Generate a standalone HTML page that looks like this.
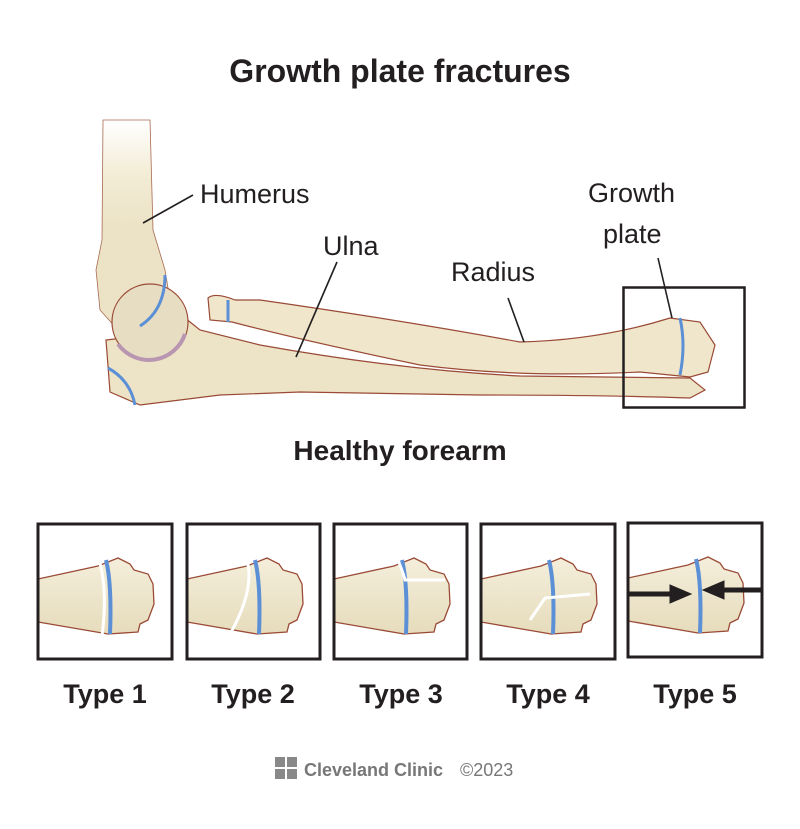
<!DOCTYPE html>
<html><head><style>
body{margin:0;background:#fff;width:800px;height:829px;overflow:hidden;font-family:"Liberation Sans",sans-serif}
svg{position:absolute;left:0;top:0}
</style></head><body>
<svg width="800" height="829" viewBox="0 0 800 829">
<defs>
<linearGradient id="bg" x1="0" y1="0" x2="0" y2="1"><stop offset="0" stop-color="#f4eedb"/><stop offset="1" stop-color="#e6dcbc"/></linearGradient>
<linearGradient id="hg" x1="0" y1="0" x2="0" y2="1"><stop offset="0" stop-color="#fff"/><stop offset="0.25" stop-color="#f3ecd6"/><stop offset="0.5" stop-color="#ece3c6"/></linearGradient>
<g id="bone">
<path d="M0 55 L60 42 L70 38 L80 34 L92 40 L96 46 L110 50 L115 60 L116 80 L110 96 L102 100 L100 108 L70 110 L0 98 Z" fill="url(#bg)" stroke="#9a4a35" stroke-width="1.3"/>
<path d="M68 36 Q74 60 72 110" fill="none" stroke="#5b8fd6" stroke-width="4"/>
</g>
</defs>
<text x="400" y="82" text-anchor="middle" font-size="32" font-weight="bold" fill="#231f20">Growth plate fractures</text>
<!-- humerus -->
<path d="M103 120 L150 120 L153 230 L165 270 L170 300 L150 335 L118 330 L100 310 L96 270 L102 240 Z" fill="url(#hg)" stroke="#a86a50" stroke-width="0.8"/>
<!-- radius -->
<path d="M208 298 Q215 292 235 300 L260 300 Q400 320 520 342 Q600 340 670 318 L700 322 L715 345 L708 372 L690 377 L640 372 Q520 378 420 365 Q300 340 232 322 L210 320 Z" fill="#efe6cc" stroke="#9a4a35" stroke-width="1.2"/>
<!-- ulna -->
<path d="M106 340 L150 335 L185 318 L200 330 L260 345 Q400 370 520 376 L690 378 L705 390 L690 398 Q600 395 480 395 L300 392 L220 395 L140 405 L110 392 Z" fill="#ede3c6" stroke="#9a4a35" stroke-width="1.2"/>
<circle cx="150" cy="322" r="38" fill="#e7ddc2" stroke="#9a4a35" stroke-width="1.2"/>
<path d="M118 344 A38 38 0 0 0 185 334" fill="none" stroke="#b895b0" stroke-width="4"/>
<path d="M165 275 Q165 310 140 326" fill="none" stroke="#5b8fd6" stroke-width="3"/>
<path d="M108 368 Q130 380 135 405" fill="none" stroke="#5b8fd6" stroke-width="3"/>
<path d="M228 300 L228 322" stroke="#5b8fd6" stroke-width="3"/>
<path d="M680 318 Q686 345 680 375" fill="none" stroke="#5b8fd6" stroke-width="3"/>
<rect x="623.5" y="287.5" width="121" height="120" fill="none" stroke="#231f20" stroke-width="2.5"/>
<g stroke="#231f20" stroke-width="1.6">
<line x1="143" y1="223" x2="193" y2="195"/>
<line x1="337" y1="262" x2="296" y2="357"/>
<line x1="508" y1="298" x2="524" y2="342"/>
<line x1="658" y1="258" x2="672" y2="318"/>
</g>
<g font-size="27" fill="#231f20">
<text x="200" y="203">Humerus</text>
<text x="323" y="255">Ulna</text>
<text x="451" y="281">Radius</text>
<text x="588" y="202">Growth</text>
<text x="603" y="243">plate</text>
</g>
<text x="400" y="460" text-anchor="middle" font-size="28" font-weight="bold" fill="#231f20">Healthy forearm</text>
<g>
<clipPath id="c1"><rect x="38" y="524" width="134" height="135"/></clipPath>
<g clip-path="url(#c1)"><use href="#bone" x="38" y="524"/><path d="M99 560 Q108 590 102 636" fill="none" stroke="#fff" stroke-width="3"/></g>
<rect x="38" y="524" width="134" height="135" fill="none" stroke="#231f20" stroke-width="3"/>
<clipPath id="c2"><rect x="187" y="524" width="133" height="135"/></clipPath>
<g clip-path="url(#c2)"><use href="#bone" x="187" y="524"/><path d="M247 560 Q255 590 230 634" fill="none" stroke="#fff" stroke-width="3"/></g>
<rect x="187" y="524" width="133" height="135" fill="none" stroke="#231f20" stroke-width="3"/>
<clipPath id="c3"><rect x="334" y="524" width="133" height="135"/></clipPath>
<g clip-path="url(#c3)"><use href="#bone" x="334" y="524"/><path d="M398 560 Q404 575 405 580 L445 580" fill="none" stroke="#fff" stroke-width="3"/></g>
<rect x="334" y="524" width="133" height="135" fill="none" stroke="#231f20" stroke-width="3"/>
<clipPath id="c4"><rect x="481" y="524" width="134" height="135"/></clipPath>
<g clip-path="url(#c4)"><use href="#bone" x="481" y="524"/><path d="M530 620 L545 598 L590 594" fill="none" stroke="#fff" stroke-width="3"/></g>
<rect x="481" y="524" width="134" height="135" fill="none" stroke="#231f20" stroke-width="3"/>
<clipPath id="c5"><rect x="628" y="523" width="134" height="134"/></clipPath>
<g clip-path="url(#c5)"><use href="#bone" x="628" y="523"/>
<path d="M628 594 L672 594 L672 588 L686 594 L672 600 L672 594" fill="#231f20" stroke="#231f20" stroke-width="5"/>
<path d="M762 590 L722 590 L722 584 L708 590 L722 596 L722 590" fill="#231f20" stroke="#231f20" stroke-width="5"/>
</g>
<rect x="628" y="523" width="134" height="134" fill="none" stroke="#231f20" stroke-width="3"/>
</g>
<g font-size="27" font-weight="bold" fill="#231f20" text-anchor="middle">
<text x="105" y="703">Type 1</text>
<text x="253" y="703">Type 2</text>
<text x="401" y="703">Type 3</text>
<text x="548" y="703">Type 4</text>
<text x="695" y="703">Type 5</text>
</g>
<g fill="#888">
<rect x="275" y="757" width="10" height="10"/><rect x="287" y="757" width="10" height="10"/>
<rect x="275" y="769" width="10" height="10"/><rect x="287" y="769" width="10" height="10"/>
</g>
<text x="304" y="776" font-size="18" font-weight="bold" fill="#777">Cleveland Clinic</text>
<text x="460" y="776" font-size="18" fill="#777">©2023</text>
</svg>
</body></html>
